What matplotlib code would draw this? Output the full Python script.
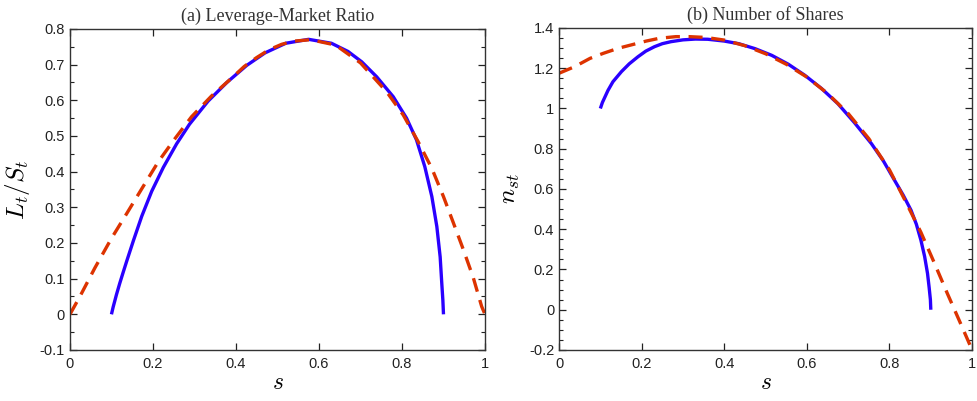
import matplotlib
matplotlib.use("Agg")
import matplotlib.pyplot as plt
from matplotlib.ticker import MultipleLocator

# (a) 레버리지-시장 비율
s_lev_blue = [0.100, 0.104, 0.112, 0.120, 0.128, 0.137, 0.153, 0.173, 0.197, 0.225,
              0.257, 0.288, 0.333, 0.378, 0.426, 0.470, 0.520, 0.575, 0.630, 0.670,
              0.703, 0.739, 0.779, 0.811, 0.835, 0.855, 0.872, 0.884, 0.892, 0.896,
              0.8985, 0.900]
lev_blue = [0.000, 0.020, 0.055, 0.087, 0.117, 0.150, 0.207, 0.275, 0.345, 0.412,
            0.478, 0.533, 0.598, 0.650, 0.698, 0.733, 0.760, 0.771, 0.760, 0.737,
            0.708, 0.666, 0.610, 0.550, 0.489, 0.414, 0.330, 0.246, 0.161, 0.085,
            0.040, 0.000]
s_lev_red = [0.000, 0.024, 0.060, 0.100, 0.137, 0.173, 0.213, 0.250, 0.293, 0.341,
             0.394, 0.420, 0.450, 0.480, 0.510, 0.540, 0.580, 0.640, 0.700, 0.763,
             0.803, 0.839, 0.872, 0.900, 0.924, 0.948, 0.972, 0.992, 1.000]
lev_red = [0.000, 0.050, 0.130, 0.213, 0.283, 0.352, 0.428, 0.488, 0.554, 0.612,
           0.667, 0.695, 0.720, 0.742, 0.757, 0.766, 0.770, 0.755, 0.705, 0.624,
           0.559, 0.484, 0.409, 0.330, 0.256, 0.181, 0.102, 0.022, 0.000]

# (b) 주식 수
s_sh_blue = [0.100, 0.105, 0.1185, 0.1305, 0.151, 0.170, 0.191, 0.210, 0.231, 0.250,
             0.271, 0.300, 0.330, 0.360, 0.400, 0.435, 0.475, 0.515, 0.555, 0.595,
             0.635, 0.675, 0.715, 0.756, 0.785, 0.812, 0.833, 0.852, 0.865, 0.876,
             0.885, 0.892, 0.896, 0.899, 0.900]
sh_blue = [1.000, 1.030, 1.090, 1.133, 1.183, 1.222, 1.257, 1.285, 1.307, 1.322,
           1.332, 1.341, 1.345, 1.344, 1.335, 1.322, 1.297, 1.264, 1.220, 1.165,
           1.100, 1.024, 0.930, 0.826, 0.740, 0.644, 0.570, 0.495, 0.425, 0.346,
           0.265, 0.181, 0.110, 0.050, 0.000]
s_sh_red = [0.000, 0.038, 0.075, 0.107, 0.143, 0.175, 0.211, 0.243, 0.283, 0.315,
            0.355, 0.400, 0.450, 0.500, 0.550, 0.600, 0.650, 0.700, 0.750, 0.800,
            0.836, 0.876, 0.908, 0.940, 0.972, 1.000]
sh_red = [1.175, 1.208, 1.249, 1.274, 1.299, 1.316, 1.335, 1.349, 1.357, 1.357,
          1.353, 1.340, 1.312, 1.272, 1.220, 1.156, 1.075, 0.975, 0.850, 0.695,
          0.550, 0.385, 0.235, 0.081, -0.068, -0.200]

BLUE = "#2a00ff"
RED = "#dd3300"

plt.rcParams["mathtext.fontset"] = "cm"
plt.rcParams["font.family"] = ["Liberation Sans", "DejaVu Sans"]

fig = plt.figure(figsize=(9.77, 4.01), dpi=100)
ax1 = fig.add_axes([0.0716, 0.1272, 0.4248, 0.8005])
ax2 = fig.add_axes([0.5722, 0.1272, 0.4228, 0.8030])


def style(ax, title, ylabel, ylim, ymajor, ylabelpad):
    ax.set_xlim(0, 1)
    ax.set_ylim(*ylim)
    ax.xaxis.set_major_locator(MultipleLocator(0.2))
    ax.yaxis.set_major_locator(MultipleLocator(ymajor))
    ax.yaxis.set_minor_locator(MultipleLocator(0.05))
    ax.xaxis.set_major_formatter(lambda v, p: f"{v:g}")
    ax.yaxis.set_major_formatter(lambda v, p: f"{v:g}")
    ax.tick_params(which="both", direction="in", top=True, right=True,
                   labelsize=10.5, colors="#222222")
    ax.tick_params(axis="x", pad=5)
    ax.tick_params(axis="y", pad=3.5)
    ax.tick_params(which="major", length=5, width=0.9)
    ax.tick_params(which="minor", length=3, width=0.8)
    for sp in ax.spines.values():
        sp.set_color("#333333")
        sp.set_linewidth(1.0)
    ax.set_title(title, family="Liberation Serif", fontsize=13, pad=6,
                 color="#333333")
    ax.set_xlabel("$s$", fontsize=17, labelpad=1)
    ax.set_ylabel(ylabel, fontsize=18, labelpad=ylabelpad)


ax1.plot(s_lev_blue, lev_blue, color=BLUE, lw=2.4, solid_capstyle="butt")
ax1.plot(s_lev_red, lev_red, color=RED, lw=2.4, dashes=(4.2, 2.6))
style(ax1, "(a) Leverage-Market Ratio", "$L_t/S_t$", (-0.1, 0.8), 0.1, 6)

ax2.plot(s_sh_blue, sh_blue, color=BLUE, lw=2.4, solid_capstyle="butt")
ax2.plot(s_sh_red, sh_red, color=RED, lw=2.4, dashes=(4.2, 2.6))
style(ax2, "(b) Number of Shares", "$n_{st}$", (-0.2, 1.4), 0.2, 5)

fig.savefig("out.png", dpi=100)
